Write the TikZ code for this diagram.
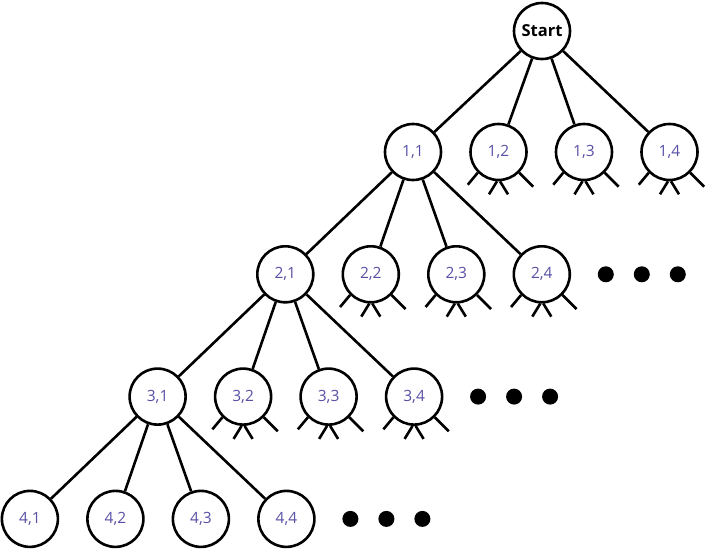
\documentclass[tikz,border=0pt]{standalone}
\usepackage{fontspec}
\setmainfont{Open Sans}
\definecolor{labelblue}{RGB}{88,80,165}
\tikzset{
  state/.style={circle,draw,line width=2.6pt,minimum size=56pt,inner sep=0pt,
    text=labelblue,font=\fontsize{15.5}{18}\selectfont},
  edge/.style={line width=2.6pt},
}
\begin{document}
\begin{tikzpicture}[x=1pt,y=-1pt]
    \useasboundingbox (0,0) rectangle (710,549);

    % root
    \node[state,text=black,font=\fontsize{16.5}{19}\selectfont\bfseries] (start) at (542,31) {Start};

    % four levels of states
    \foreach \i in {1,...,4} {
        \foreach \j in {1,...,4} {
            \node[state] (n\i\j) at ({413-127.7*(\i-1)+85.5*(\j-1)},{152+122.3*(\i-1)}) {\i,\j};
        }
    }

    % edges
    \foreach \j in {1,...,4} {
        \draw[edge] (start) -- (n1\j);
    }
    \foreach \i/\k in {1/2,2/3,3/4} {
        \foreach \j in {1,...,4} {
            \draw[edge] (n\i1) -- (n\k\j);
        }
    }

    % unexpanded branches
    \foreach \i in {1,2,3} {
        \foreach \j in {2,3,4} {
            \draw[edge] (n\i\j.south west) -- ++(-10,12);
            \draw[edge] (n\i\j.south east) -- ++(14,14);
            \draw[edge] ([xshift=-1.5pt]n\i\j.south) -- ++(-8,13);
            \draw[edge] ([xshift=1.5pt]n\i\j.south) -- ++(8,13);
        }
    }

    % dots
    \foreach \i in {2,3,4} {
        \fill (n\i4.center) ++(64,0) circle (8) ++(36,0) circle (8) ++(36,0) circle (8);
    }
\end{tikzpicture}
\end{document}
